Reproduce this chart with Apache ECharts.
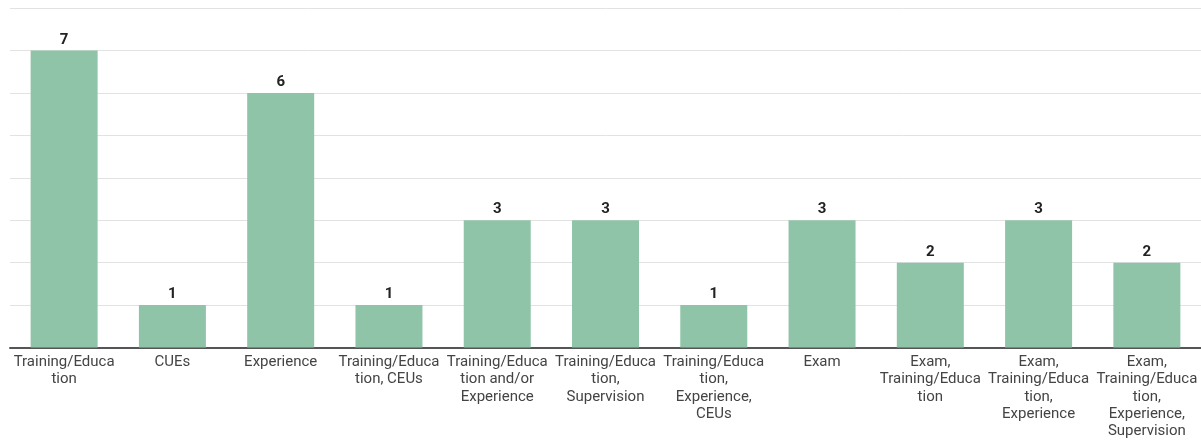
<!DOCTYPE html>
<html>
<head>
<meta charset="utf-8">
<style>
html,body{margin:0;padding:0;background:#fff;}
#chart{width:1201px;height:440px;}
</style>
<script src="https://cdn.jsdelivr.net/npm/echarts@6/dist/echarts.min.js"></script>
</head>
<body>
<div id="chart"></div>
<script>
const categories = [
  "Training/Education", "CUEs", "Experience", "Training/Education, CEUs",
  "Training/Education and/or Experience", "Training/Education, Supervision",
  "Training/Education, Experience, CEUs", "Exam", "Exam, Training/Education",
  "Exam, Training/Education, Experience", "Exam, Training/Education, Experience, Supervision"
];
const tickLabels = [
  "Training/Educa\ntion", "CUEs", "Experience", "Training/Educa\ntion, CEUs",
  "Training/Educa\ntion and/or\nExperience", "Training/Educa\ntion,\nSupervision",
  "Training/Educa\ntion,\nExperience,\nCEUs", "Exam", "Exam,\nTraining/Educa\ntion",
  "Exam,\nTraining/Educa\ntion,\nExperience", "Exam,\nTraining/Educa\ntion,\nExperience,\nSupervision"
];
const counts = [7, 1, 6, 1, 3, 3, 1, 3, 2, 3, 2];

const chart = echarts.init(document.getElementById('chart'), null, {renderer: 'canvas'});
chart.setOption({
  animation: false,
  grid: {left: 10, right: 0, top: 8, bottom: 90, containLabel: false},
  xAxis: {
    type: 'category',
    data: categories,
    axisLine: {lineStyle: {color: '#555', width: 2}},
    axisTick: {show: false},
    axisLabel: {
      interval: 0,
      margin: 6,
      color: '#444',
      fontFamily: 'Roboto',
      fontSize: 15,
      lineHeight: 17.3,
      formatter: function (v, i) { return tickLabels[i]; }
    }
  },
  yAxis: {
    type: 'value',
    min: 0, max: 8, interval: 1,
    axisLabel: {show: false},
    axisLine: {show: false},
    axisTick: {show: false},
    splitLine: {lineStyle: {color: '#e2e2e2', width: 1}}
  },
  series: [{
    type: 'bar',
    data: counts,
    barWidth: 67,
    itemStyle: {color: '#8fc4a8'},
    label: {
      show: true,
      position: 'top',
      distance: 3,
      color: '#222',
      fontFamily: 'Roboto',
      fontWeight: 'bold',
      fontSize: 15
    }
  }]
});
</script>
</body>
</html>
